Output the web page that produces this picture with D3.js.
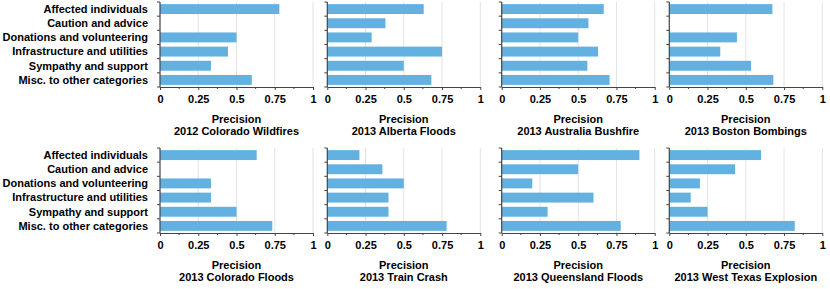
<!DOCTYPE html>
<html><head><meta charset="utf-8">
<script src="https://cdn.jsdelivr.net/npm/d3@7"></script>
<style>
body{margin:0;background:#fff;}
text{font-family:"Liberation Sans",Arial,Helvetica,sans-serif;font-weight:bold;}
</style></head><body>
<svg id="c" width="830" height="289"></svg>
<script>
const categories = ["Affected individuals","Caution and advice","Donations and volunteering","Infrastructure and utilities","Sympathy and support","Misc. to other categories"];
const events = ["2012 Colorado Wildfires","2013 Alberta Floods","2013 Australia Bushfire","2013 Boston Bombings","2013 Colorado Floods","2013 Train Crash","2013 Queensland Floods","2013 West Texas Explosion"];
const coloradoWildfires = [0.78,0,0.5,0.444,0.333,0.6];
const albertaFloods = [0.63,0.38,0.29,0.75,0.5,0.68];
const australiaBushfire = [0.667,0.567,0.5,0.63,0.56,0.705];
const bostonBombings = [0.674,0,0.442,0.333,0.534,0.68];
const coloradoFloods = [0.632,0,0.333,0.333,0.5,0.734];
const trainCrash = [0.21,0.36,0.5,0.4,0.4,0.78];
const queenslandFloods = [0.9,0.5,0.2,0.6,0.3,0.778];
const westTexas = [0.6,0.43,0.2,0.14,0.25,0.82];
const seriesValues = [coloradoWildfires,albertaFloods,australiaBushfire,bostonBombings,coloradoFloods,trainCrash,queenslandFloods,westTexas];
const xTicks = [0,0.25,0.5,0.75,1];
const xTickLabels = ["0","0.25","0.5","0.75","1"];
const minorTicks = [0.125,0.375,0.625,0.875];
const axisTitle = "Precision";

const svg = d3.select("#c");
const colX = [160,327.3,501.7,669.3];
const rowY = [2,148];
const W = 153, H = 85;
const barColor = "#63b1e0";

seriesValues.forEach((vals,i)=>{
  const col = i%4, row = Math.floor(i/4);
  const g = svg.append("g").attr("transform",`translate(${colX[col]},${rowY[row]})`);
  const x = d3.scaleLinear().domain([0,1]).range([0,W]);
  const y = d3.scaleBand().domain(categories).range([0,H]).paddingInner(0.3).paddingOuter(0.15);
  // grid
  g.selectAll(".grid").data(xTicks.slice(1)).join("line")
    .attr("x1",d=>x(d)).attr("x2",d=>x(d)).attr("y1",0).attr("y2",H)
    .attr("stroke","#e3e3e3").attr("stroke-width",1);
  // bars
  g.selectAll(".bar").data(vals).join("rect")
    .attr("x",x(0)).attr("y",(d,j)=>y(categories[j]))
    .attr("width",d=>x(d)).attr("height",y.bandwidth())
    .attr("fill",barColor);
  // x axis
  const xa = g.append("g").attr("transform",`translate(0,${H})`)
    .call(d3.axisBottom(x).tickValues(xTicks).tickFormat((d,k)=>xTickLabels[k]).tickSize(3).tickSizeOuter(0));
  xa.select(".domain").attr("stroke","#444").attr("stroke-width",1.2);
  xa.selectAll(".tick line").attr("stroke","#444");
  xa.selectAll("text").attr("font-size",11).attr("fill","#000").attr("dy","0.71em").attr("y",8);
  g.append("g").attr("transform",`translate(0,${H})`).selectAll("line").data(minorTicks).join("line")
    .attr("x1",d=>x(d)).attr("x2",d=>x(d)).attr("y1",0).attr("y2",2).attr("stroke","#444");
  // y axis: line with ticks at band boundaries
  g.append("line").attr("x1",0).attr("x2",0).attr("y1",0).attr("y2",H).attr("stroke","#444").attr("stroke-width",1.2);
  const bounds = categories.map(c=>y(c)-y.step()*y.paddingInner()/2);
  bounds.push(H);
  bounds[0]=0;
  g.selectAll(".ytick").data(bounds).join("line")
    .attr("x1",-3).attr("x2",0).attr("y1",d=>d).attr("y2",d=>d).attr("stroke","#444");
  if(col===0){
    g.selectAll(".ylab").data(categories).join("text")
      .attr("x",-12).attr("y",c=>y(c)+y.bandwidth()/2).attr("dy","0.35em")
      .attr("text-anchor","end").attr("font-size",11).attr("fill","#000").text(c=>c);
  }
  g.append("text").attr("x",W/2).attr("y",H+36).attr("text-anchor","middle").attr("font-size",11).attr("fill","#000").text(axisTitle);
  g.append("text").attr("x",W/2).attr("y",H+48).attr("text-anchor","middle").attr("font-size",11).attr("fill","#000").text(events[i]);
});
</script></body></html>
